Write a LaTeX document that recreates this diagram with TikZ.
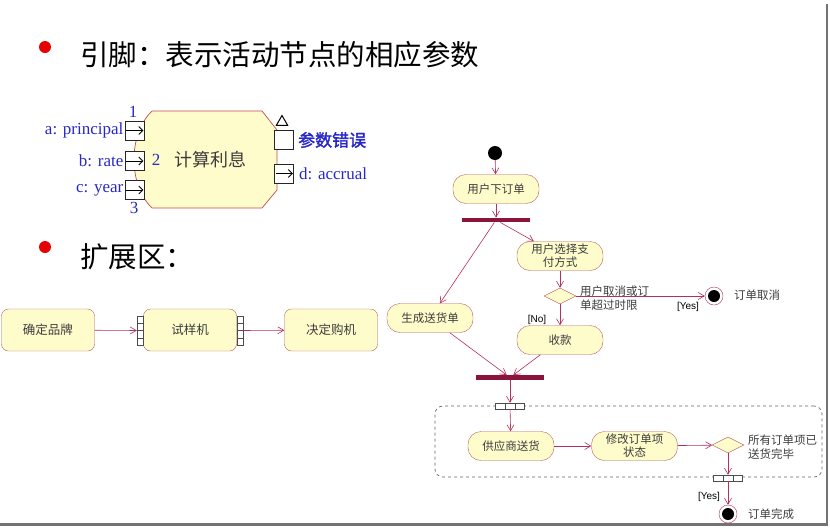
\documentclass[tikz,border=0pt]{standalone}
\usepackage{fontspec}
\setmainfont{Liberation Serif}
\newfontfamily\cjk{Noto Sans CJK SC}
\newfontfamily\cjkb[FakeBold=2]{Noto Sans CJK SC}
\newfontfamily\arial{Liberation Sans}
\usepackage{tikz}
\usetikzlibrary{shapes.geometric,arrows.meta}
\definecolor{actfill}{RGB}{255,252,204}
\definecolor{actline}{RGB}{176,96,96}
\definecolor{flowline}{RGB}{178,48,96}
\definecolor{barcol}{RGB}{140,20,60}
\definecolor{pinblue}{RGB}{40,40,200}
\definecolor{bulletred}{RGB}{230,0,0}
\definecolor{txtgray}{RGB}{60,60,60}

\begin{document}
\begin{tikzpicture}[x=1pt, y=-1pt,
	act/.style={draw=actline, fill=actfill, rounded corners=13pt, minimum width=86pt, minimum height=29pt, align=center, inner sep=1pt, text=txtgray, font=\cjk\fontsize{11.5}{13}\selectfont},
	box/.style={draw=actline, fill=actfill, rounded corners=7pt, minimum width=93pt, minimum height=42pt, text=txtgray, font=\cjk\fontsize{12.5}{14}\selectfont},
	bar/.style={fill=barcol, minimum width=68pt, minimum height=4.5pt, inner sep=0},
	dec/.style={diamond, draw=actline, fill=actfill, minimum width=32pt, minimum height=16pt, inner sep=0},
	startdot/.style={circle, fill=black, minimum size=14pt, inner sep=0},
	endnode/.style={circle, draw=flowline, fill=white, minimum size=18pt, inner sep=0, path picture={\fill[black] (path picture bounding box.center) circle (6pt);}},
	flow/.style={draw=flowline, line width=0.6pt, -{Straight Barb[length=6pt,width=7pt]}},
	pinbox/.style={draw=black!85, line width=0.9pt, fill=white, minimum size=19pt, inner sep=0},
	vpin/.style={draw=black!70, fill=white, minimum width=6pt, minimum height=29pt, inner sep=0},
	hpin/.style={draw=black!70, fill=white, minimum width=29pt, minimum height=6pt, inner sep=0},
	pinlabel/.style={text=pinblue, inner sep=1pt, font=\fontsize{17}{19}\selectfont},
	note/.style={anchor=west, align=left, text=txtgray, inner sep=1pt, font=\cjk\fontsize{11.5}{14}\selectfont},
	guard/.style={inner sep=1pt, font=\arial\fontsize{10}{12}\selectfont},
	bullet/.style={circle, fill=bulletred, minimum size=12pt, inner sep=0},
	heading/.style={anchor=west, inner sep=0, font=\cjk\fontsize{28.5}{31}\selectfont}]

	\useasboundingbox (0,0) rectangle (830,528);

	% Rahmen (Schatten rechts und unten)
	\draw[line width=2.5pt, black!55] (827,4) -- (827,524.5) -- (0,524.5);

	% --- Ueberschriften ---
	\node[bullet] (b1) at (45,47) {};
	\node[heading] (t1) at (80,55) {引脚：表示活动节点的相应参数};
	\node[bullet] (b2) at (45,247) {};
	\node[heading] (t2) at (80,257) {扩展区：};

	% --- Aktion mit Pins ---
	\draw[draw=actline!80!red, line width=0.7pt, fill=actfill] (152,111) -- (262,111) -- (277,130) -- (277,190) -- (262,208) -- (152,208)
		.. controls (128,185) and (128,134) .. (152,111);
	\node[text=txtgray, font=\cjk\fontsize{18}{20}\selectfont] (calc) at (210,160) {计算利息};

	\node[pinbox] (pa) at (134.5,130.5) {};
	\node[pinbox] (pb) at (134.5,161) {};
	\node[pinbox] (pc) at (134.5,190) {};
	\node[pinbox] (perr) at (284,140) {};
	\node[pinbox] (pd) at (284,173.5) {};
	\foreach \p in {pa,pb,pc,pd}
		\draw[line width=0.9pt, -{Straight Barb[length=4pt,width=8pt]}] ([xshift=1.5pt]\p.west) -- ([xshift=-1pt]\p.east);
	\node[regular polygon, regular polygon sides=3, draw, line width=1pt, minimum size=13pt, inner sep=0] (exc) at (282,122) {};

	\node[pinlabel, anchor=east] (la) at (pa.west) {a: principal};
	\node[pinlabel, anchor=east] (lb) at (pb.west) {b: rate};
	\node[pinlabel, anchor=east] (lc) at (pc.west) {c: year};
	\node[pinlabel] (n1) at (133,112) {1};
	\node[pinlabel] (n2) at (156,160) {2};
	\node[pinlabel] (n3) at (134,208) {3};
	\node[pinlabel, anchor=west, font=\cjkb\fontsize{17}{19}\selectfont] (lerr) at ([xshift=3pt]perr.east) {参数错误};
	\node[pinlabel, anchor=west] (ld) at ([xshift=4pt]pd.east) {d: accrual};

	% --- Kette mit Pin-Stapeln ---
	\node[box] (brand) at (48,330) {确定品牌};
	\node[box] (trial) at (190,330) {试样机};
	\node[box] (decide) at (331,330) {决定购机};
	\node[vpin] (tin) at (140,330.5) {};
	\node[vpin] (tout) at (240,330.5) {};
	\foreach \k in {1,2,3} {
		\draw[black!70] (137,316+7.25*\k) -- (143,316+7.25*\k);
		\draw[black!70] (237,316+7.25*\k) -- (243,316+7.25*\k);
	}
	\draw[flow] (brand) -- (tin);
	\draw[flow] (tout) -- (decide);

	% --- Aktivitaetsdiagramm ---
	\node[startdot] (start) at (495,153) {};
	\node[act] (order) at (496,189) {用户下订单};
	\node[bar] (fork) at (496,220) {};
	\node[act] (pay) at (560,256) {用户选择支\\付方式};
	\node[act] (ship) at (430,318) {生成送货单};
	\node[dec] (chk) at (560,296) {};
	\node[endnode] (cancel) at (714,296) {};
	\node[act] (collect) at (560,340) {收款};
	\node[bar] (join) at (510,377.5) {};

	\node[note] (lchk) at (579,298) {用户取消或订\\单超过时限};
	\node[guard] (yes1) at (688,307) {[Yes]};
	\node[note] (lcancel) at (733,295) {订单取消};
	\node[guard] (no1) at (537,320) {[No]};

	\draw[flow] (start) -- (order);
	\draw[flow] (order) -- (fork);
	\draw[flow] (fork) -- (ship);
	\draw[flow] (fork) -- (pay);
	\draw[flow] (pay) -- (chk);
	\draw[flow] (chk) -- (cancel);
	\draw[flow] (chk) -- (collect);
	\draw[flow] (ship) -- (join);
	\draw[flow] (collect) -- (join);

	% --- Erweiterungsbereich ---
	\node[draw=black!60, dashed, line width=0.7pt, rounded corners=8pt, minimum width=387pt, minimum height=71pt] (region) at (628.5,441.5) {};
	\node[hpin] (pinin) at (510,406) {};
	\node[hpin] (pinout) at (728,478) {};
	\foreach \k in {1,2} {
		\draw[black!70] (495.5+9.67*\k,403) -- (495.5+9.67*\k,409);
		\draw[black!70] (713.5+9.67*\k,475) -- (713.5+9.67*\k,481);
	}
	\node[act] (supply) at (511,446) {供应商送货};
	\node[act] (modify) at (634.5,446) {修改订单项\\状态};
	\node[dec] (allchk) at (728,445) {};
	\node[endnode] (done) at (728,514) {};

	\node[note] (lall) at (747,447) {所有订单项已\\送货完毕};
	\node[guard] (yes2) at (709,497) {[Yes]};
	\node[note] (ldone) at (747,514) {订单完成};

	\draw[flow] (join) -- (pinin);
	\draw[flow] (pinin) -- (supply);
	\draw[flow] (supply) -- (modify);
	\draw[flow] (modify) -- (allchk);
	\draw[flow] (allchk) -- (pinout);
	\draw[flow] (pinout) -- (done);

\end{tikzpicture}
\end{document}
